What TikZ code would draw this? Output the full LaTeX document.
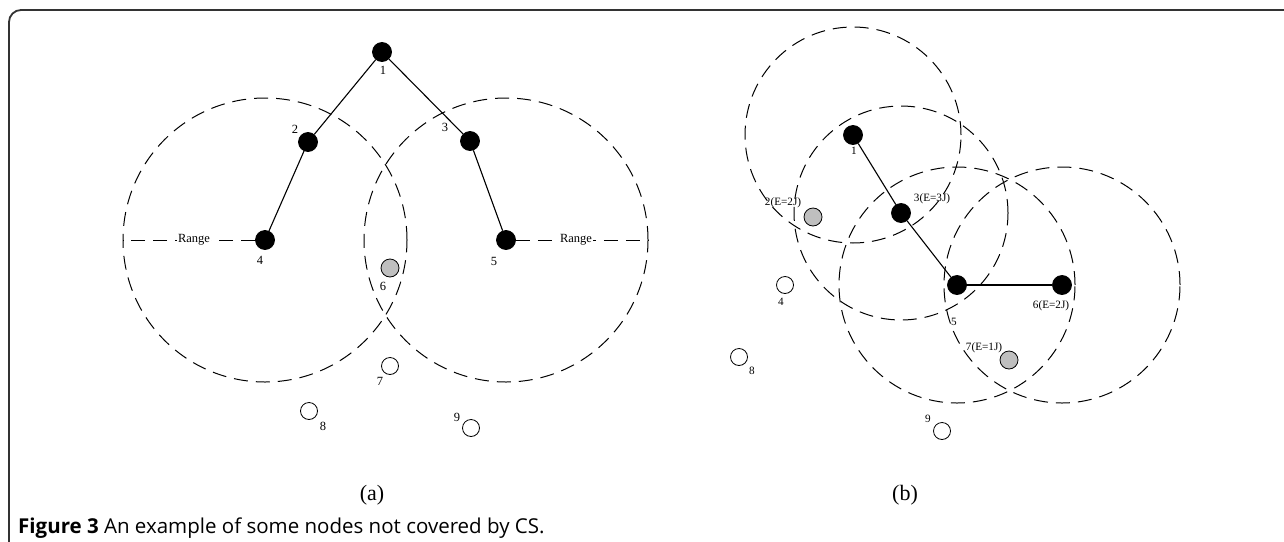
\documentclass[tikz,border=0pt]{standalone}
\usepackage{fontspec}
\setmainfont{Liberation Serif}
\newfontfamily\capfont{Open Sans}
\begin{document}
\begin{tikzpicture}[x=1pt,y=-1pt,
  sensor/.style={circle,draw=black,line width=0.8pt,minimum size=19pt,inner sep=0pt},
  headnode/.style={sensor,fill=black},
  lownode/.style={sensor,fill=black!25,minimum size=18pt},
  idlenode/.style={sensor,fill=white,minimum size=17pt},
  link/.style={line width=1.1pt},
  rangecirc/.style={dash pattern=on 14pt off 8pt,line width=1pt},
  laba/.style={font=\fontsize{12.5}{14}\selectfont,inner sep=0pt},
  labb/.style={font=\fontsize{11.2}{13}\selectfont,inner sep=0pt},
  panel/.style={font=\fontsize{22}{24}\selectfont,inner sep=0pt}
]
\useasboundingbox (0,0) rectangle (1284,541);

% outer frame
\draw[line width=1.8pt,black!80,rounded corners=12pt] (1290,10) -- (9,10) -- (9,548);

% ---------------- panel (a) ----------------
\node[headnode] (a1) at (382,52) {};
\node[headnode] (a2) at (308,142) {};
\node[headnode] (a3) at (470,141) {};
\node[headnode] (a4) at (265,240) {};
\node[headnode] (a5) at (506,240) {};
\node[lownode]  (a6) at (390,268) {};
\node[idlenode] (a7) at (390,366) {};
\node[idlenode] (a8) at (309,411) {};
\node[idlenode] (a9) at (471,428) {};

\draw[rangecirc] (a4) circle[radius=142pt];
\draw[rangecirc] (a5) circle[radius=142pt];

\coordinate (ra) at (123,240);
\coordinate (rb) at (648,240);
\draw[rangecirc] (a4) -- (ra);
\draw[rangecirc] (a5) -- (rb);
\node[laba,fill=white,inner xsep=1pt,inner ysep=2pt] (rangea) at (194,240) {Range};
\node[laba,fill=white,inner xsep=1pt,inner ysep=2pt] (rangeb) at (576,240) {Range};

\draw[link] (a1) -- (a2);
\draw[link] (a2) -- (a4);
\draw[link] (a1) -- (a3);
\draw[link] (a3) -- (a5);

\node[laba] (la1) at (383,70) {1};
\node[laba] (la2) at (295,129) {2};
\node[laba] (la3) at (445,127) {3};
\node[laba] (la4) at (260,260) {4};
\node[laba] (la5) at (494,261) {5};
\node[laba] (la6) at (383,286) {6};
\node[laba] (la7) at (380,381) {7};
\node[laba] (la8) at (323,426) {8};
\node[laba] (la9) at (457,417) {9};

\node[panel] (capa) at (372,495) {(a)};

% ---------------- panel (b) ----------------
\node[headnode] (b1) at (853,135) {};
\node[headnode] (b3) at (901,213) {};
\node[headnode] (b5) at (957,285) {};
\node[headnode] (b6) at (1062,285) {};
\node[lownode]  (b2) at (813,217) {};
\node[lownode]  (b7) at (1009,360) {};
\node[idlenode] (b4) at (785,285) {};
\node[idlenode] (b8) at (739,357) {};
\node[idlenode] (b9) at (942,431) {};

\draw[rangecirc] (b1) circle[radius=108pt];
\draw[rangecirc] (b3) circle[radius=107pt];
\draw[rangecirc] (b5) circle[radius=118pt];
\draw[rangecirc] (b6) circle[radius=118pt];

\draw[link] (b1) -- (b3);
\draw[link] (b3) -- (b5);
\draw[link] (b5) -- (b6);

\node[labb] (lb1) at (854,151) {1};
\node[labb] (lb2) at (783,203) {2(E=2J)};
\node[labb] (lb3) at (932,199) {3(E=3J)};
\node[labb] (lb4) at (781,302) {4};
\node[labb] (lb5) at (954,322) {5};
\node[labb] (lb6) at (1051,306) {6(E=2J)};
\node[labb] (lb7) at (984,348) {7(E=1J)};
\node[labb] (lb8) at (752,371) {8};
\node[labb] (lb9) at (928,419) {9};

\node[panel] (capb) at (905,495) {(b)};

% ---------------- caption ----------------
\node[anchor=base west,inner sep=0pt,font=\capfont\fontsize{20.5}{23}\selectfont] (caption) at (18,533)
  {\textbf{Figure 3} An example of some nodes not covered by CS.};
\end{tikzpicture}
\end{document}
